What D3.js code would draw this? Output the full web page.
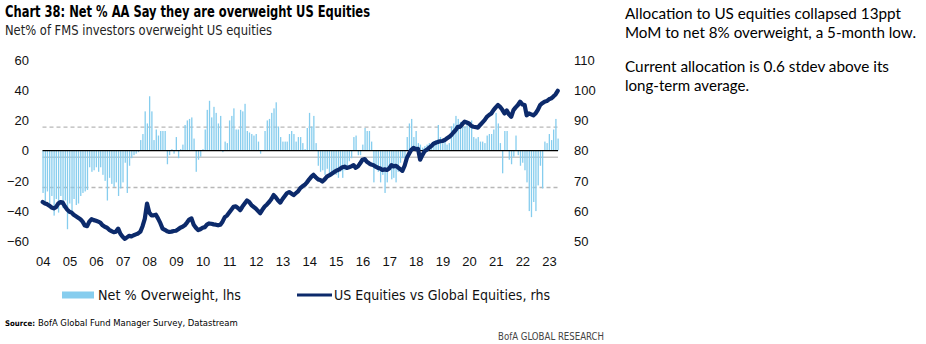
<!DOCTYPE html>
<html><head><meta charset="utf-8">
<script src="https://cdn.jsdelivr.net/npm/d3@7"></script>
<style>
html,body{margin:0;padding:0;background:#fff;}
svg{display:block;}
</style></head>
<body>
<svg id="c" width="926" height="344"></svg>
<script>
// ---------------- DATA ----------------
const startMonth = "2004-01";           // first survey month
const yearTicks = ["04","05","06","07","08","09","10","11","12","13","14","15","16","17","18","19","20","21","22","23"];
const leftTicks = [60,40,20,0,-20,-40,-60];
const rightTicks = [110,100,90,80,70,60,50];
// Net % of FMS investors overweight US equities (monthly, lhs)
const netOverweight = [
 -28,-34,-27,-36,-30,-43,-32,-41,-30,-38,-33,-52,   // 2004
 -35,-43,-32,-36,-35,-30,-28,-27,-26,-11,-14,-13,   // 2005
 -11,-14,-11,-16,-20,-33,-18,-22,-24,-21,-30,-25,   // 2006
 -21,-8,-28,-10,-5,-3,-2,-1,7,11,26,18,             // 2007
 36,26,7,14,10,13,13,13,-9,-3,1,-2,                 // 2008
 9,-5,1,4,17,20,21,22,8,-14,-6,-4,                  // 2009
 1,14,27,33,22,29,25,18,23,-1,6,5,                  // 2010
 20,23,28,14,14,27,26,31,13,12,11,10,               // 2011
 11,6,-2,0,13,20,21,25,28,32,16,9,                  // 2012
 6,6,6,11,13,11,6,9,9,5,1,15,                       // 2013
 25,16,23,5,-10,-14,-13,-16,-12,-15,-17,-14,        // 2014
 -16,-18,-14,-18,-13,-11,-7,-5,9,10,-3,-3,          // 2015
 4,15,13,13,6,-21,-12,-14,-21,-16,-28,-21,          // 2016
 -10,-19,-18,-21,-14,-8,-5,-5,9,18,21,9,            // 2017
 13,5,4,2,3,4,5,5,6,7,17,9,                         // 2018
 5,7,4,5,16,18,23,21,19,18,16,19,                   // 2019
 16,20,9,8,9,6,6,5,10,11,11,14,                     // 2020
 25,18,5,-15,13,13,-6,-9,-4,10,-3,-10,              // 2021
 -8,-13,-21,-40,-44,-34,-40,-23,-10,-25,6,5,        // 2022
 11,7,14,21,8                                        // 2023
];
// US Equities vs Global Equities (relative performance, rhs)
const usVsGlobal = [
 63,62.5,62.3,61.8,61.2,60.9,61.3,62.5,63,62.8,61.5,60.5,
 59.8,59.5,58.8,58.3,57.8,57.3,56.5,55.2,55,56.5,57.3,57,
 56.8,56.5,56.2,55.3,54.8,54.5,53.8,53.4,53,53.2,54.2,52.5,
 51.5,50.8,51.3,51.8,51.6,52,52.3,52.6,53.2,55,57.5,62.5,
 59.5,58.6,58.6,58.8,57.5,56,54.2,53.8,53.3,53.1,53.2,53.4,
 53.5,54,54.5,54.8,55.3,56.2,57.2,57.6,55.5,54.5,53.7,54,
 54.5,54.7,55.5,55.9,55.8,55.6,55.5,55.3,55.5,56.5,58,58.5,
 59.5,60.5,61.4,61.6,61,60.3,61.5,62.5,63.5,63,62,61.4,
 60.8,60,59.3,60.5,61.5,62.2,63,64,65.3,64.5,63.5,62.8,
 64,65,65.9,66.3,65.8,65.3,65.9,66.5,67.6,68.2,68.7,69.5,
 70.5,71.4,72,71.2,70.5,70.3,69.8,70.5,71.4,71.8,72.3,72.8,
 73.3,73.6,74,74.5,74.7,74.3,74.5,74.8,75.2,74.3,74.8,75.8,
 77,77.2,76.3,75.8,75.4,75.2,74.7,74.3,74.1,73.6,73.8,73.6,
 74.1,75.2,74.8,75,74.5,73.9,73.3,75,77.6,79,80.3,80.9,
 80.5,80.6,77,78.5,79.8,80.3,80.9,81.5,82.3,82.6,82.9,83.1,
 83.2,83.5,84,84.5,85.1,86,86.8,87.9,87.9,88.8,89.6,89.3,
 89,88.2,87.9,87.8,87.6,88.5,89.3,90.1,91.2,91.8,92.3,93.4,
 94.3,95.1,94.5,93.5,92.3,93.3,92,91.2,93.4,94.3,95.1,96.2,
 95.3,95.1,91.7,92.3,92,91.7,92.3,93.5,95.1,95.7,96.2,96.4,
 97,97.3,97.9,98.6,99.8
];
// long-term average and +/- 1 stdev (lhs)
const avgLine = -4.4;
const sdBands = [15.6, -24.4];

const titleText = "Chart 38: Net % AA Say they are overweight US Equities";
const subtitleText = "Net% of FMS investors overweight US equities";
const noteLines = ["Allocation to US equities collapsed 13ppt","MoM to net 8% overweight, a 5-month low.","Current allocation is 0.6 stdev above its","long-term average."];
const legendLabels = ["Net % Overweight, lhs","US Equities vs Global Equities, rhs"];
const sourceLabel = ["Source:","BofA Global Fund Manager Survey, Datastream"];
const brandText = "BofA GLOBAL RESEARCH";

// ---------------- CHART ----------------
const svg = d3.select("#c");
const BAR = "#86cdee", NAVY = "#0c2a6b";
const narrow = "'Liberation Sans Narrow','Arial Narrow','DejaVu Sans Condensed','Liberation Sans',sans-serif";
const parse = d3.timeParse("%Y-%m");
const t0 = parse(startMonth);
const dates = netOverweight.map((_, i) => d3.timeMonth.offset(t0, i));

const x = d3.scaleTime().domain([parse("2004-01"), parse("2023-01")]).range([42.7, 549]);
const yL = d3.scaleLinear().domain([-60, 60]).range([241.3, 60]);
const yR = d3.scaleLinear().domain([50, 110]).range([241.3, 60]);
const x0 = 42.5, x1 = 558;

// reference lines
svg.append("line").attr("x1", x0).attr("x2", x1).attr("y1", yL(avgLine)).attr("y2", yL(avgLine))
  .attr("stroke", "#c6c6c6").attr("stroke-width", 1.6);
svg.selectAll("line.sd").data(sdBands).join("line").attr("class","sd")
  .attr("x1", x0).attr("x2", x1).attr("y1", d => yL(d)).attr("y2", d => yL(d))
  .attr("stroke", "#b8b8b8").attr("stroke-width", 1.3).attr("stroke-dasharray", "4,3");

// bars
svg.append("g").selectAll("rect").data(netOverweight).join("rect")
  .attr("x", (d, i) => x(dates[i]) - 0.3)
  .attr("width", 1.3)
  .attr("y", d => Math.min(yL(d), yL(0)))
  .attr("height", d => Math.abs(yL(d) - yL(0)))
  .attr("fill", BAR);

// zero line
svg.append("line").attr("x1", x0).attr("x2", x1).attr("y1", yL(0)).attr("y2", yL(0))
  .attr("stroke", "#000").attr("stroke-width", 1.4);

// line
const line = d3.line().x((d, i) => x(dates[i])).y(d => yR(d)).curve(d3.curveLinear);
svg.append("path").datum(usVsGlobal).attr("d", line).attr("fill", "none")
  .attr("stroke", NAVY).attr("stroke-width", 4.2).attr("stroke-linejoin", "round").attr("stroke-linecap","round");

// axes
const axFont = "'Liberation Sans',Arial,sans-serif";
const gL = svg.append("g").attr("transform", "translate(29,0)")
  .call(d3.axisLeft(yL).tickValues(leftTicks).tickSize(0).tickPadding(0).tickFormat(d3.format("d")));
const gR = svg.append("g").attr("transform", "translate(574,0)")
  .call(d3.axisRight(yR).tickValues(rightTicks).tickSize(0).tickPadding(0).tickFormat(d3.format("d")));
const gX = svg.append("g").attr("transform", "translate(0,256.5)")
  .call(d3.axisBottom(x).tickValues(yearTicks.map(s => d3.timeParse("%y")(s))).tickSize(0).tickPadding(0).tickFormat(d3.timeFormat("%y")));
[gL, gR, gX].forEach(g => {
  g.select(".domain").remove();
  g.selectAll("text").attr("font-family", axFont).attr("font-size", 13).attr("fill", "#111");
});
gX.selectAll("text").attr("dy", "0.71em");

// titles
svg.append("text").attr("x", 5).attr("y", 17).text(titleText)
  .attr("font-family", narrow).attr("font-weight", "bold").attr("font-size", 15.5)
  .attr("textLength", 365).attr("lengthAdjust", "spacingAndGlyphs").attr("fill", "#000");
svg.append("text").attr("x", 5).attr("y", 35).text(subtitleText)
  .attr("font-family", narrow).attr("font-size", 14)
  .attr("textLength", 267).attr("lengthAdjust", "spacingAndGlyphs").attr("fill", "#222");

// right note
const noteY = [19, 38.3, 71.5, 90.5], noteW = [276, 291, 264, 124];
noteLines.forEach((s, i) => {
  svg.append("text").attr("x", 625).attr("y", noteY[i]).text(s)
    .attr("font-family", "Lato,'Open Sans',sans-serif").attr("font-size", 15)
    .attr("textLength", noteW[i]).attr("lengthAdjust", "spacingAndGlyphs").attr("fill", "#000");
});

// legend
svg.append("rect").attr("x", 62).attr("y", 291.5).attr("width", 32).attr("height", 7).attr("fill", BAR);
svg.append("text").attr("x", 98).attr("y", 300).text(legendLabels[0])
  .attr("font-family", narrow).attr("font-size", 14).attr("textLength", 143).attr("lengthAdjust","spacingAndGlyphs").attr("fill","#111");
svg.append("line").attr("x1", 297).attr("x2", 332).attr("y1", 295).attr("y2", 295).attr("stroke", NAVY).attr("stroke-width", 3);
svg.append("text").attr("x", 334).attr("y", 300).text(legendLabels[1])
  .attr("font-family", narrow).attr("font-size", 14).attr("textLength", 216).attr("lengthAdjust","spacingAndGlyphs").attr("fill","#111");

// source: bold lead-in sized to fit its natural width, then the rest after it
const srcB = svg.append("text").attr("x", 5).attr("y", 326).text(sourceLabel[0])
  .attr("font-family", narrow).attr("font-weight","bold").attr("font-size", 10.5);
const wB = srcB.node().getComputedTextLength();
const fsB = Math.min(10.5, 10.5 * 30 / wB);
srcB.attr("font-size", fsB);
const bEnd = 5 + srcB.node().getComputedTextLength();
const srcR = svg.append("text").attr("x", bEnd + 3).attr("y", 326).text(sourceLabel[1])
  .attr("font-family", narrow).attr("font-size", 10.5);
const wR = srcR.node().getComputedTextLength();
srcR.attr("font-size", Math.min(10.5, 10.5 * (238 - bEnd - 3) / wR));
svg.append("text").attr("x", 498).attr("y", 340).text(brandText)
  .attr("font-family", narrow).attr("font-size", 10.5).attr("textLength", 106).attr("lengthAdjust","spacingAndGlyphs").attr("fill","#444");
</script>
</body></html>
